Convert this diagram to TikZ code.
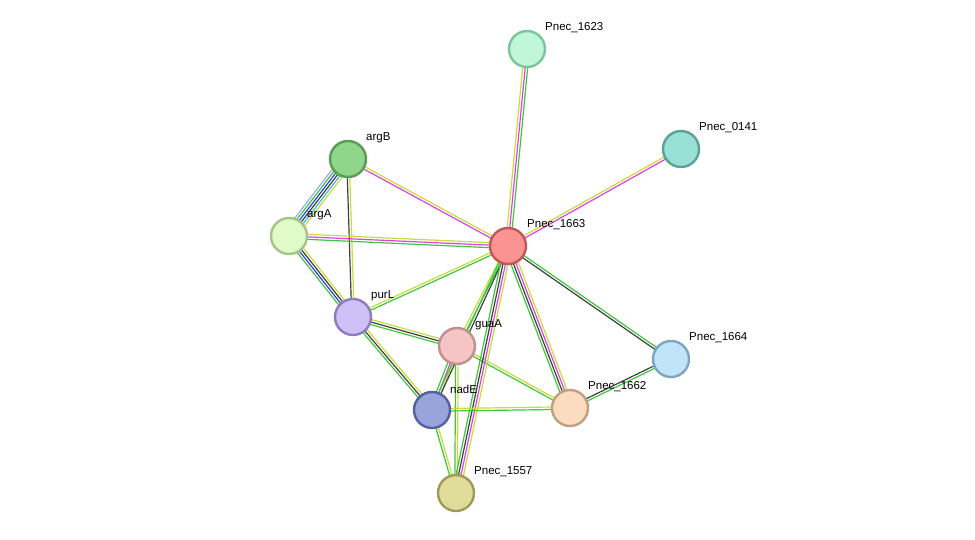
\documentclass[tikz,border=0pt]{standalone}
\usepackage{fontspec}
\setmainfont{Liberation Sans}
\usetikzlibrary{calc,backgrounds}
\definecolor{cgreen}{HTML}{3CC83C}
\definecolor{cyel}{HTML}{C8DC3C}
\definecolor{cmag}{HTML}{E040E0}
\definecolor{cblk}{HTML}{404040}
\definecolor{cblu}{HTML}{3040E0}
\definecolor{ccya}{HTML}{40B8E0}
\definecolor{clav}{HTML}{A0A8F0}
\definecolor{f1623}{HTML}{C0F7D8}\definecolor{d1623}{HTML}{7DC49A}
\definecolor{f0141}{HTML}{99E0D6}\definecolor{d0141}{HTML}{5AA395}
\definecolor{fargB}{HTML}{8FD58A}\definecolor{dargB}{HTML}{5A9C55}
\definecolor{fargA}{HTML}{E0FBC8}\definecolor{dargA}{HTML}{A6C48A}
\definecolor{f1663}{HTML}{FB9393}\definecolor{d1663}{HTML}{C05858}
\definecolor{fpurL}{HTML}{D0C0F8}\definecolor{dpurL}{HTML}{8D7CC0}
\definecolor{fguaA}{HTML}{F5C4C4}\definecolor{dguaA}{HTML}{C09090}
\definecolor{f1664}{HTML}{C0E4FA}\definecolor{d1664}{HTML}{7EA5BF}
\definecolor{fnadE}{HTML}{9AA4DC}\definecolor{dnadE}{HTML}{5460A0}
\definecolor{f1662}{HTML}{FCDCC0}\definecolor{d1662}{HTML}{C0A080}
\definecolor{f1557}{HTML}{DEDC98}\definecolor{d1557}{HTML}{A09A58}
% parallel coloured lines between two nodes
\newcommand{\lnk}[4]{%
  \foreach \c [count=\i] in {#4} {
    \pgfmathsetmacro{\o}{(\i-1-(#3-1)/2)*2.5}
    \draw[\c,line width=1.2pt] ($(#1.center)!\o pt!90:(#2.center)$) -- ($(#2.center)!\o pt!-90:(#1.center)$);
  }}
\begin{document}
\begin{tikzpicture}[x=1pt,y=-1pt,
  prot/.style={circle,minimum size=36pt,line width=2.4pt,inner sep=0pt,fill=f#1,draw=d#1},
  lbl/.style={anchor=west,font=\fontsize{11.5pt}{12pt}\selectfont,inner sep=0pt}]
\useasboundingbox (0,0) rectangle (975,539);
% proteins
\node[prot=1623] (P1623) at (527,49) {};
\node[prot=0141] (P0141) at (681,149) {};
\node[prot=argB] (argB) at (348,159) {};
\node[prot=argA] (argA) at (289,236) {};
\node[prot=1663] (P1663) at (508,246) {};
\node[prot=purL] (purL) at (353,317) {};
\node[prot=guaA] (guaA) at (457,346) {};
\node[prot=1664] (P1664) at (671,359) {};
\node[prot=nadE] (nadE) at (432,410) {};
\node[prot=1662] (P1662) at (570,408) {};
\node[prot=1557] (P1557) at (456,493) {};
% labels
\node[lbl] (l1623) at (545,28) {Pnec\_1623};
\node[lbl] (l0141) at (699,128) {Pnec\_0141};
\node[lbl] (largB) at (366,138) {argB};
\node[lbl] (largA) at (307,215) {argA};
\node[lbl] (l1663) at (527,225) {Pnec\_1663};
\node[lbl] (lpurL) at (371,296) {purL};
\node[lbl] (lguaA) at (475,325) {guaA};
\node[lbl] (l1664) at (689,338) {Pnec\_1664};
\node[lbl] (lnadE) at (450,389) {nadE};
\node[lbl] (l1662) at (588,387) {Pnec\_1662};
\node[lbl] (l1557) at (474,472) {Pnec\_1557};
% links
\begin{pgfonlayer}{background}
\lnk{argB}{argA}{6}{clav,cgreen,cblu,cblk,ccya,cyel}
\lnk{argB}{purL}{2}{cblk,cyel}
\lnk{argB}{P1663}{2}{cmag,cyel}
\lnk{argA}{P1663}{3}{cgreen,cmag,cyel}
\lnk{argA}{purL}{4}{cgreen,cblu,cblk,cyel}
\lnk{purL}{P1663}{2}{cgreen,cyel}
\lnk{purL}{guaA}{3}{cgreen,cblk,cyel}
\lnk{purL}{nadE}{3}{cgreen,cblk,cyel}
\lnk{guaA}{P1663}{2}{cgreen,cyel}
\lnk{guaA}{nadE}{3}{cgreen,cmag,cyel}
\lnk{guaA}{P1557}{2}{cgreen,cyel}
\lnk{guaA}{P1662}{2}{cgreen,cyel}
\lnk{P1663}{nadE}{2}{cgreen,cblk}
\lnk{P1663}{P1557}{4}{cgreen,cblk,cmag,cyel}
\lnk{nadE}{P1662}{2}{cgreen,cyel}
\lnk{nadE}{P1557}{2}{cgreen,cyel}
\lnk{P1663}{P1662}{4}{cgreen,cblk,cmag,cyel}
\lnk{P1663}{P1664}{2}{cblk,cgreen}
\lnk{P1662}{P1664}{2}{cgreen,cblk}
\lnk{P1663}{P1623}{3}{cgreen,cmag,cyel}
\lnk{P1663}{P0141}{2}{cmag,cyel}
\end{pgfonlayer}
\end{tikzpicture}
\end{document}
